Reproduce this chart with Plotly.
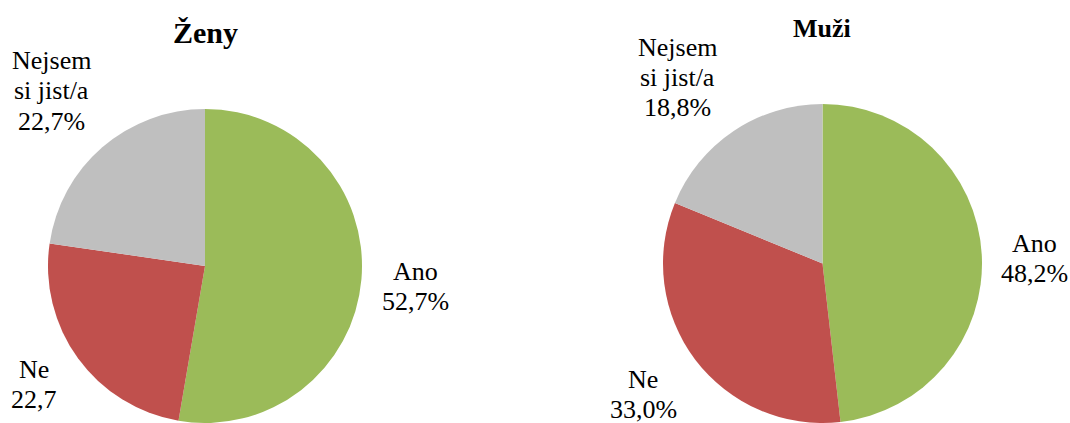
import plotly.graph_objects as go

W, H = 1070, 423

categories = ["Ano", "Ne", "Nejsem si jist/a"]
zeny_values = [52.7, 24.6, 22.7]
muzi_values = [48.2, 33.0, 18.8]
zeny_labels = [["Ano", "52,7%"], ["Ne", "22,7"], ["Nejsem", "si jist/a", "22,7%"]]
muzi_labels = [["Ano", "48,2%"], ["Ne", "33,0%"], ["Nejsem", "si jist/a", "18,8%"]]
titles = ["Ženy", "Muži"]

colors = ["#9BBB59", "#C0504D", "#BFBFBF"]
FONT = "Liberation Serif"

# label block centers (pixels) per slice, layout only
zeny_label_pos = [(415, 286.5), (34, 384.5), (51, 91)]
muzi_label_pos = [(1034, 258), (643, 394), (677, 77)]
title_pos = [(205, 32, 30), (822, 29, 26)]
LINE_PITCH = 30
LABEL_SIZE = 26

def px(x):
    return x / W

def py(y):
    return 1 - y / H

fig = go.Figure()
fig.add_trace(go.Pie(labels=categories, values=zeny_values, sort=False,
                     direction="clockwise", rotation=0,
                     marker=dict(colors=colors, line=dict(width=0)),
                     textinfo="none", hoverinfo="label+percent",
                     domain=dict(x=[px(48), px(362)], y=[0, py(109)]),
                     showlegend=False))
fig.add_trace(go.Pie(labels=categories, values=muzi_values, sort=False,
                     direction="clockwise", rotation=0,
                     marker=dict(colors=colors, line=dict(width=0)),
                     textinfo="none", hoverinfo="label+percent",
                     domain=dict(x=[px(662), px(983)], y=[0, py(104)]),
                     showlegend=False))

annotations = []
for labels, positions in ((zeny_labels, zeny_label_pos), (muzi_labels, muzi_label_pos)):
    for lines, (cx, cy) in zip(labels, positions):
        n = len(lines)
        for i, line in enumerate(lines):
            y = cy + (i - (n - 1) / 2) * LINE_PITCH
            annotations.append(dict(x=px(cx), y=py(y), xref="paper", yref="paper",
                                    text=line, showarrow=False,
                                    xanchor="center", yanchor="middle",
                                    font=dict(family=FONT, size=LABEL_SIZE, color="black")))

for t, (cx, cy, size) in zip(titles, title_pos):
    annotations.append(dict(x=px(cx), y=py(cy), xref="paper", yref="paper",
                            text=f"<b>{t}</b>", showarrow=False,
                            xanchor="center", yanchor="middle",
                            font=dict(family=FONT, size=size, color="black")))

fig.update_layout(width=W, height=H, margin=dict(l=0, r=0, t=0, b=0),
                  paper_bgcolor="white", plot_bgcolor="white",
                  font=dict(family=FONT),
                  annotations=annotations)

fig.write_html("out.html", config={"displayModeBar": False},
               post_script="document.body.style.margin='0';document.body.style.overflow='hidden';")
